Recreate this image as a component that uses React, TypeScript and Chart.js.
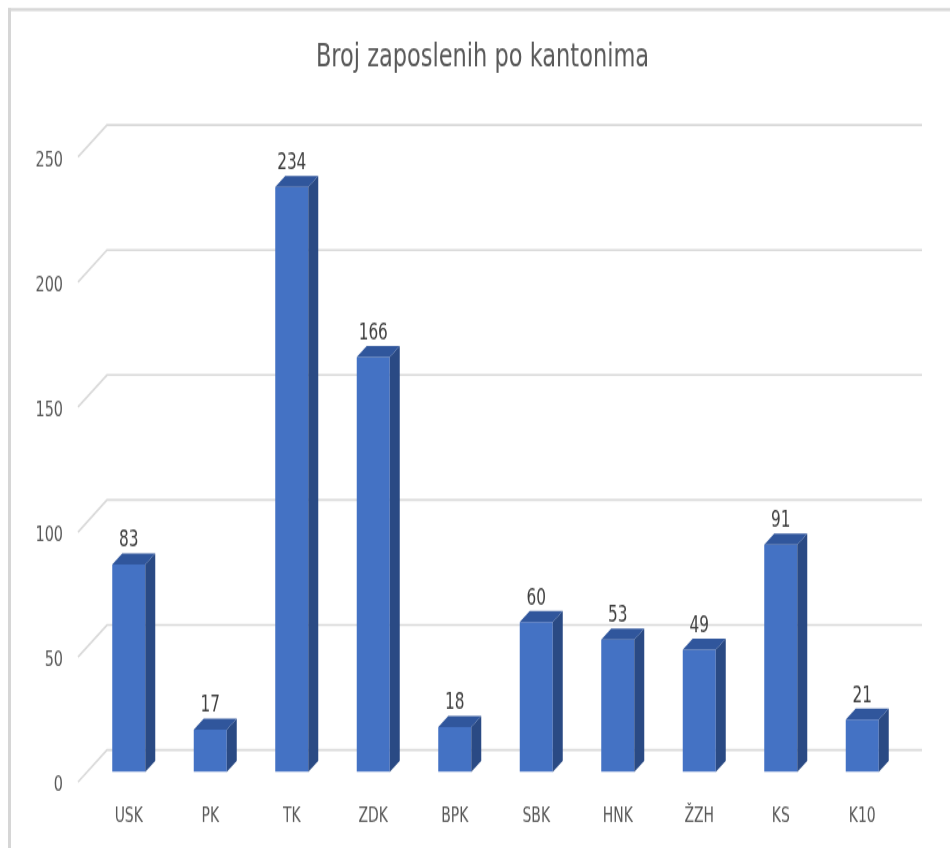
import React, { useEffect, useRef } from "react";
import { Chart, registerables } from "chart.js";

Chart.register(...registerables);

const categories = ["USK", "PK", "TK", "ZDK", "BPK", "SBK", "HNK", "ŽZH", "KS", "K10"];
const employees = [83, 17, 234, 166, 18, 60, 53, 49, 91, 21];
const yTicks = [0, 50, 100, 150, 200, 250];
const chartTitle = "Broj zaposlenih po kantonima";

const FONT = "'DejaVu Sans Condensed', 'DejaVu Sans', sans-serif";
// the reference picture is stretched vertically; draw compressed, then stretch
const PAGE_H = 848;
const CANVAS_H = 652;
const S = PAGE_H / CANVAS_H;
const DX = 10;
const DY = -11 / S;

const threeD = {
  id: "threeD",
  beforeDraw(chart: any) {
    const ctx = chart.ctx;
    ctx.save();
    ctx.fillStyle = "#ffffff";
    ctx.fillRect(0, 0, chart.width, chart.height);
    ctx.strokeStyle = "#d6d6d6";
    ctx.lineWidth = 3;
    ctx.beginPath();
    ctx.moveTo(9.5, chart.height);
    ctx.lineTo(9.5, 8 / S);
    ctx.stroke();
    ctx.lineWidth = 3 / S;
    ctx.beginPath();
    ctx.moveTo(8, 9.5 / S);
    ctx.lineTo(chart.width, 9.5 / S);
    ctx.stroke();
    ctx.restore();
  },
  beforeDatasetsDraw(chart: any) {
    const ctx = chart.ctx;
    const y = chart.scales.y;
    const area = chart.chartArea;
    ctx.save();
    ctx.strokeStyle = "#d9d9d9";
    ctx.lineWidth = 1.6;
    for (const v of yTicks) {
      const py = y.getPixelForValue(v);
      ctx.beginPath();
      ctx.moveTo(area.left - 10, py + 10 / S);
      ctx.lineTo(area.left + 19, py - 22 / S);
      ctx.lineTo(area.right + 19, py - 22 / S);
      ctx.stroke();
    }
    ctx.restore();
  },
  afterDatasetsDraw(chart: any) {
    const ctx = chart.ctx;
    const meta = chart.getDatasetMeta(0);
    ctx.save();
    meta.data.forEach((bar: any, i: number) => {
      const { x, y, base, width } = bar.getProps(["x", "y", "base", "width"], true);
      const l = x - width / 2;
      const r = x + width / 2;
      // side face
      ctx.fillStyle = "#2a4a84";
      ctx.beginPath();
      ctx.moveTo(r, y);
      ctx.lineTo(r + DX, y + DY);
      ctx.lineTo(r + DX, base + DY);
      ctx.lineTo(r, base);
      ctx.closePath();
      ctx.fill();
      // top face
      ctx.fillStyle = "#30569c";
      ctx.beginPath();
      ctx.moveTo(l, y);
      ctx.lineTo(l + DX, y + DY);
      ctx.lineTo(r + DX, y + DY);
      ctx.lineTo(r, y);
      ctx.closePath();
      ctx.fill();
      // value label
      ctx.fillStyle = "#404040";
      ctx.font = `17px ${FONT}`;
      ctx.textAlign = "center";
      ctx.textBaseline = "middle";
      ctx.fillText(String(employees[i]), x, y - 23.5 / S);
    });
    ctx.restore();
  },
};

export default function App() {
  const ref = useRef<HTMLCanvasElement | null>(null);

  useEffect(() => {
    document.body.style.margin = "0";
    const chart = new Chart(ref.current as HTMLCanvasElement, {
      type: "bar",
      data: {
        labels: categories,
        datasets: [
          {
            data: employees,
            backgroundColor: "#4472c4",
            borderWidth: 0,
            barPercentage: 0.405,
            categoryPercentage: 1,
          },
        ],
      },
      options: {
        animation: false,
        responsive: true,
        maintainAspectRatio: false,
        layout: { padding: { left: 62, right: 47, top: 0, bottom: 0 } },
        plugins: {
          legend: { display: false },
          tooltip: { enabled: false },
          title: {
            display: true,
            text: chartTitle,
            color: "#595959",
            font: { family: FONT, size: 25, weight: "normal", lineHeight: 1.2 },
            padding: { top: 29.6, bottom: 53.4 },
          },
        },
        scales: {
          x: {
            grid: { display: false, drawTicks: false },
            border: { display: false },
            ticks: {
              color: "#595959",
              font: { family: FONT, size: 15.5 },
              padding: 25.3,
              maxRotation: 0,
              autoSkip: false,
            },
            afterFit: (s: any) => {
              s.height = CANVAS_H - 772 / S;
            },
          },
          y: {
            min: 0,
            max: 250,
            grid: { display: false, drawTicks: false },
            border: { display: false },
            ticks: {
              stepSize: 50,
              color: "#595959",
              font: { family: FONT, size: 16 },
              mirror: true,
              crossAlign: "far",
              padding: -52.5,
              labelOffset: 14 / S,
            },
            afterFit: (s: any) => {
              s.width = 26;
            },
          },
        },
      },
      plugins: [threeD],
    });
    return () => chart.destroy();
  }, []);

  return (
    <div
      style={{
        position: "fixed",
        left: 0,
        top: 0,
        width: 950,
        height: CANVAS_H,
        transform: `scaleY(${S})`,
        transformOrigin: "0 0",
      }}
    >
      <canvas ref={ref} />
    </div>
  );
}
